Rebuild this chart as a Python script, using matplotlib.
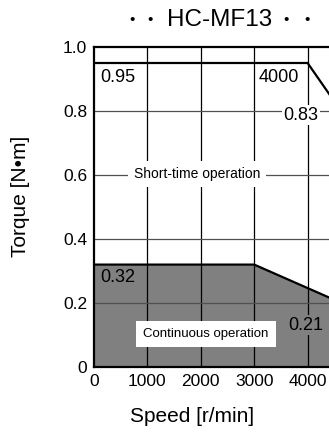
import numpy as np
import matplotlib.pyplot as plt

plt.rcParams['font.family'] = ['Liberation Sans', 'DejaVu Sans']

# torque-speed curve of the servo motor
speed_short = [0, 4000, 4500]
torque_short = [0.95, 0.95, 0.83]
speed_cont = [0, 3000, 4500]
torque_cont = [0.32, 0.32, 0.21]

x_ticks = [0, 1000, 2000, 3000, 4000]
x_labels = ['0', '1000', '2000', '3000', '4000']
y_ticks = [0, 0.2, 0.4, 0.6, 0.8, 1.0]
y_labels = ['0', '0.2', '0.4', '0.6', '0.8', '1.0']

W, H = 329, 434
fig = plt.figure(figsize=(W / 100, H / 100), dpi=100)
# axes goes past the right edge, the picture is cut there
ax = fig.add_axes([94 / W, (H - 367) / H, 267 / W, 320 / H])
ax.set_xlim(0, 5000)
ax.set_ylim(0, 1.0)

# continuous area
ax.fill_between(speed_cont + [4500], torque_cont + [0], 0, color='#808080',
                lw=0, zorder=1)

for xv in x_ticks[1:]:
    ax.axvline(xv, color='black', lw=0.9, zorder=2)
for yv in y_ticks[1:-1]:
    ax.axhline(yv, color='#505050', lw=0.9, zorder=2)

ax.plot(speed_short, torque_short, color='black', lw=1.6, zorder=3,
        solid_joinstyle='miter')
ax.plot(speed_cont, torque_cont, color='black', lw=1.6, zorder=3,
        solid_joinstyle='miter')

for s in ax.spines.values():
    s.set_linewidth(1.6)
ax.spines['right'].set_visible(False)

ax.set_xticks(x_ticks)
ax.set_xticklabels(x_labels, fontsize=12.5)
ax.set_yticks(y_ticks)
ax.set_yticklabels(y_labels, fontsize=12.5)
ax.tick_params(length=0, pad=5)

# value labels
ax.text(112, 0.906, '0.95', fontsize=13, va='center', ha='left', zorder=4)
ax.text(3075, 0.906, '4000', fontsize=13, va='center', ha='left', zorder=4)
ax.text(3545, 0.787, '0.83', fontsize=13, va='center', ha='left', zorder=4,
        bbox=dict(facecolor='white', edgecolor='none', pad=1))
ax.text(112, 0.28, '0.32', fontsize=13, va='center', ha='left', zorder=4)
ax.text(3640, 0.131, '0.21', fontsize=13, va='center', ha='left', zorder=4,
        bbox=dict(facecolor='#808080', edgecolor='none', pad=1))

ax.text(1930, 0.603, 'Short-time operation', fontsize=10, va='center',
        ha='center', zorder=4,
        bbox=dict(facecolor='white', edgecolor='none', pad=4))
ax.text(2100, 0.103, 'Continuous operation', fontsize=9.5, va='center',
        ha='center', zorder=4,
        bbox=dict(facecolor='white', edgecolor='none', pad=5))

# title: bullets spread out like in the scanned sheet
ty = 1 - 20 / H
for bx in [132, 150, 286, 307]:
    fig.text(bx / W, ty, '•', fontsize=11, ha='center', va='center')
fig.text(220 / W, ty, 'HC-MF13', fontsize=17.5, ha='center', va='center')

fig.text(192 / W, 1 - 417 / H, 'Speed [r/min]', fontsize=15,
         ha='center', va='center')
fig.text(21 / W, 1 - 196 / H, 'Torque [N•m]', fontsize=15, rotation=90,
         ha='center', va='center')

fig.savefig('out.png', dpi=100)
